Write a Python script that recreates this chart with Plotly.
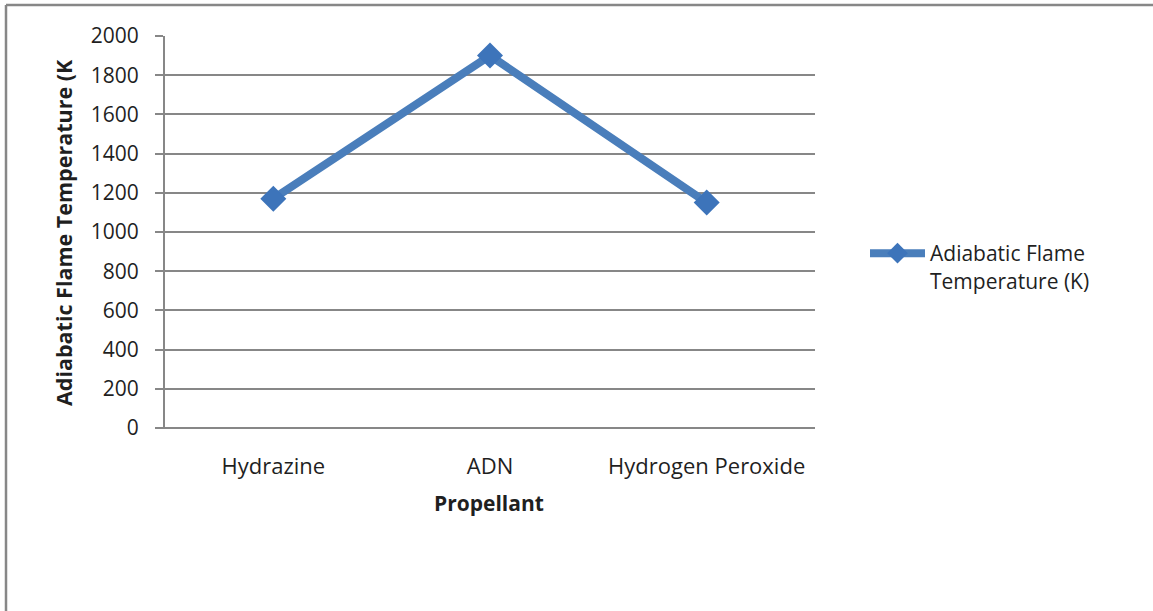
import plotly.graph_objects as go

# Propellant comparison data
propellants = ["Hydrazine", "ADN", "Hydrogen Peroxide"]
flame_temp_k = [1170, 1900, 1150]
y_ticks = [0, 200, 400, 600, 800, 1000, 1200, 1400, 1600, 1800, 2000]

W, H = 1153, 611
L, R, T, B = 165, 338, 36, 183
plot_w = W - L - R
plot_h = H - T - B


def px_x(px):
    return (px - L) / plot_w


def px_y(py):
    return (H - B - py) / plot_h


FONT = "Open Sans, Lato, sans-serif"
TEXT = "#1f1f1f"
GRID = "#878787"
BLUE = "#4a7ebb"
FS = 21

fig = go.Figure()
fig.add_trace(go.Scatter(
    x=propellants,
    y=flame_temp_k,
    mode="lines+markers",
    name="Adiabatic Flame<br>Temperature (K)",
    line=dict(color=BLUE, width=8),
    marker=dict(symbol="diamond", size=20, color="#3d74ba"),
))

fig.update_layout(
    width=W,
    height=H,
    margin=dict(l=L, r=R, t=T, b=B),
    paper_bgcolor="white",
    plot_bgcolor="white",
    font=dict(family=FONT, size=FS, color=TEXT),
    xaxis=dict(
        range=[-0.5, 2.5],
        showgrid=False,
        showline=False,
        zeroline=False,
        ticks="",
        ticklabelstandoff=23,
        tickfont=dict(size=FS + 1, color=TEXT),
    ),
    yaxis=dict(
        range=[0, 2000],
        tickvals=y_ticks,
        showgrid=True,
        gridcolor=GRID,
        gridwidth=2,
        zeroline=False,
        showline=True,
        linecolor=GRID,
        linewidth=2,
        ticks="outside",
        ticklen=8,
        tickcolor=GRID,
        tickwidth=2,
        ticklabelstandoff=12,
        tickfont=dict(size=FS, color=TEXT),
    ),
    showlegend=True,
    legend=dict(
        x=px_x(865),
        y=px_y(233),
        xanchor="left",
        yanchor="top",
        valign="top",
        itemwidth=55,
        font=dict(size=FS, color=TEXT),
        bgcolor="rgba(0,0,0,0)",
        tracegroupgap=0,
    ),
    annotations=[
        dict(
            text="<b>Adiabatic Flame Temperature (K</b>",
            xref="paper", yref="paper",
            x=px_x(63), y=px_y(233),
            xanchor="center", yanchor="middle",
            textangle=-90, showarrow=False,
            font=dict(size=FS + 0.5, color=TEXT),
        ),
        dict(
            text="<b>Propellant</b>",
            xref="paper", yref="paper",
            x=px_x(489), y=px_y(503),
            xanchor="center", yanchor="middle",
            showarrow=False,
            font=dict(size=FS, color=TEXT),
        ),
    ],
    shapes=[
        # x axis baseline, extended under the y tick marks
        dict(type="line", xref="paper", yref="paper",
             x0=px_x(157), x1=1, y0=0, y1=0,
             line=dict(color=GRID, width=2)),
        # outer chart frame (top and left edges)
        dict(type="line", xref="paper", yref="paper",
             x0=px_x(6), x1=px_x(W + 10), y0=px_y(5), y1=px_y(5),
             line=dict(color=GRID, width=2.5)),
        dict(type="line", xref="paper", yref="paper",
             x0=px_x(6), x1=px_x(6), y0=px_y(5), y1=px_y(H + 10),
             line=dict(color=GRID, width=2.5)),
    ],
)

fig.write_html("out.html")
